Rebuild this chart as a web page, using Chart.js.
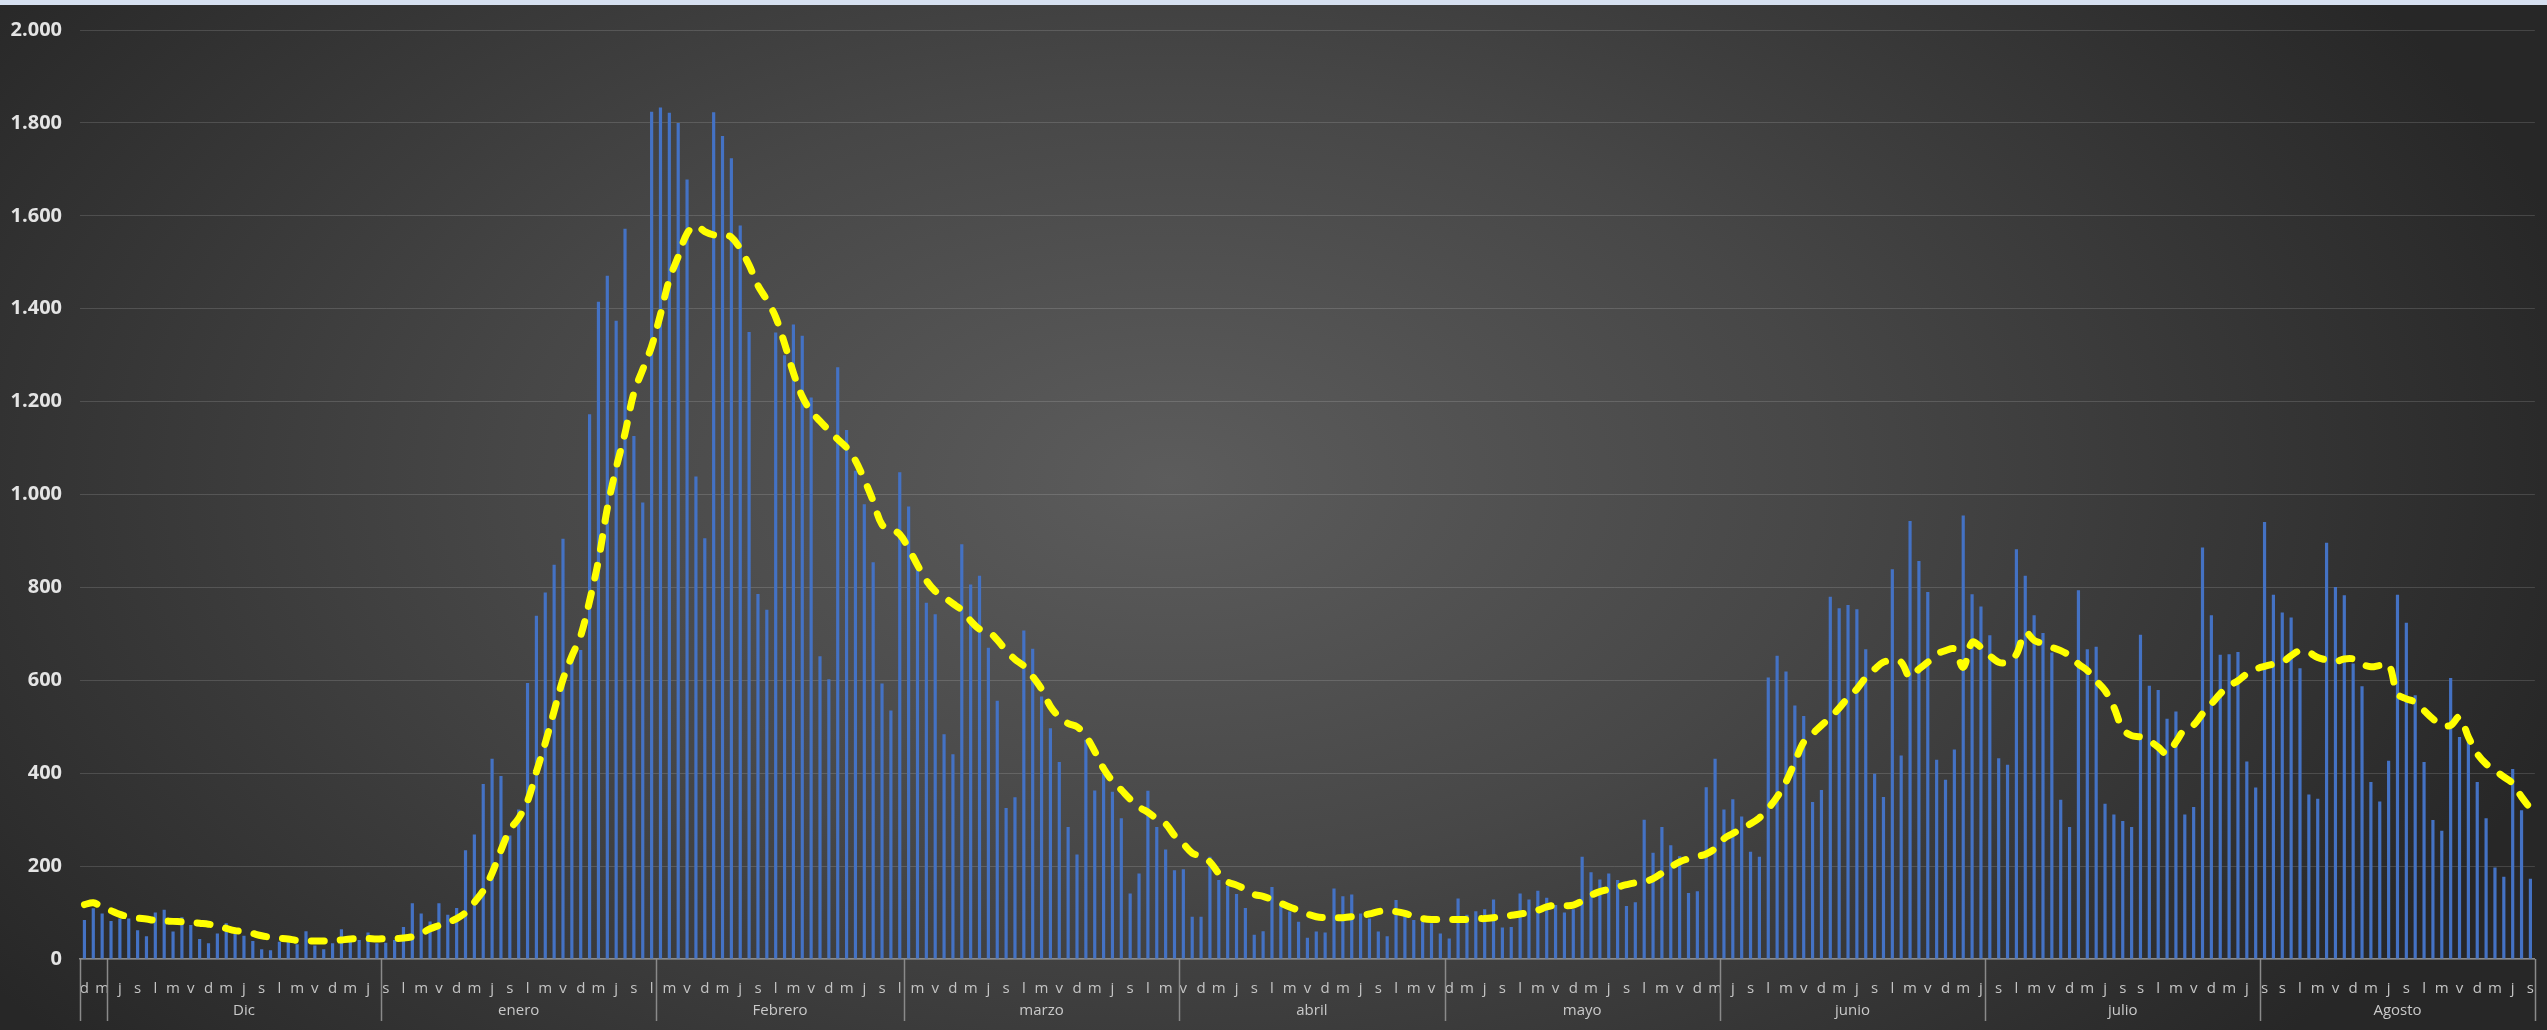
<!DOCTYPE html>
<html>
<head>
<meta charset="utf-8">
<script src="https://cdn.jsdelivr.net/npm/chart.js@4/dist/chart.umd.min.js"></script>
<style>
  html, body { margin: 0; padding: 0; background: #262626; overflow: hidden; }
  canvas { display: block; }
</style>
</head>
<body>
<canvas id="c" width="2547" height="1030"></canvas>
<script>
// ---- data ----
const monthNames = ["", "Dic", "enero", "Febrero", "marzo", "abril", "mayo", "junio", "julio", "Agosto"];
const monthDays  = [3, 31, 31, 28, 31, 30, 31, 30, 31, 31];

// weekday letters shown under every second bar
const dayLetters = [
  "d","m",
  "j","s","l","m","v","d","m","j","s","l","m","v","d","m","j",
  "s","l","m","v","d","m","j","s","l","m","v","d","m","j","s","l",
  "m","v","d","m","j","s","l","m","v","d","m","j","s","l",
  "m","v","d","m","j","s","l","m","v","d","m","j","s","l","m",
  "v","d","m","j","s","l","m","v","d","m","j","s","l","m","v",
  "d","m","j","s","l","m","v","d","m","j","s","l","m","v","d","m",
  "j","s","l","m","v","d","m","j","s","l","m","v","d","m","j",
  "s","l","m","v","d","m","j","s","s","l","m","v","d","m","j",
  "s","s","l","m","v","d","m","j","s","l","m","v","d","m","j","s"
];

// daily values (bars)
const dailyValues = [
  84,109,98,82,87,87,62,49,100,106,59,90,73,43,34,55,77,55,50,39,
  21,19,37,49,32,60,29,21,34,64,37,41,57,34,35,41,69,120,98,81,
  120,95,110,234,268,377,431,394,266,322,594,739,789,849,905,652,665,1173,1415,1471,
  1374,1572,1126,983,1824,1833,1822,1800,1678,1039,906,1823,1772,1724,1579,1350,786,752,1349,1300,
  1366,1342,1209,652,602,1274,1139,1051,979,854,593,535,1048,974,838,767,742,484,441,893,
  806,825,670,556,325,348,707,668,565,497,424,284,225,472,363,399,360,303,141,184,
  362,284,236,191,193,91,91,220,170,157,140,110,52,60,155,120,102,80,46,59,
  57,152,135,139,98,87,59,49,127,95,84,80,77,55,44,130,95,103,107,128,
  68,69,141,128,147,132,116,100,107,220,187,171,184,170,114,122,300,229,284,245,
  221,142,146,370,431,322,344,307,231,220,606,653,619,546,523,338,364,780,755,762,
  753,667,399,349,839,438,943,857,790,429,386,451,955,785,759,697,432,418,882,825,
  740,702,660,343,284,794,667,672,334,311,297,284,698,588,579,517,533,311,327,886,
  740,655,656,661,425,369,941,784,746,735,626,354,345,896,801,783,636,587,381,339,
  427,784,724,568,424,299,276,605,478,472,381,303,197,177,409,320,173
];

// smoothed average (yellow dashed line)
const averageValues = [
  117,121,112,104,96,91,88,86,83,82,81,80,79,77,75,72,66,61,60,55,
  50,47,45,43,40,39,39,39,39,41,43,44,44,43,44,44,45,48,55,65,
  72,79,87,100,122,147,185,234,278,303,340,403,465,534,602,652,696,771,858,970,
  1057,1132,1219,1269,1319,1388,1463,1512,1562,1579,1566,1559,1559,1554,1529,1494,1450,1419,1382,1325,
  1262,1211,1179,1158,1138,1119,1101,1073,1032,986,935,926,914,884,848,815,792,779,765,751,
  728,710,705,687,664,645,631,608,581,544,521,507,500,480,447,410,383,364,344,327,
  316,302,291,266,248,228,221,209,184,166,159,150,139,135,128,120,112,105,97,91,
  89,89,89,91,94,97,102,104,102,98,92,87,85,85,85,85,85,87,87,89,
  92,94,97,100,105,112,116,115,116,125,137,145,150,155,160,164,166,173,185,198,
  209,216,221,226,238,259,270,281,291,304,324,349,381,424,467,485,503,520,540,563,
  581,606,624,639,642,639,606,624,639,656,664,667,628,682,671,653,639,639,656,703,
  686,679,671,664,653,635,621,599,578,542,495,481,478,470,456,442,467,495,504,528,
  549,571,588,599,614,624,630,635,639,653,664,660,649,644,640,646,646,635,629,632,
  635,571,560,553,535,517,503,503,521,478,442,420,406,392,378,349,324
];

const yTicks = { min: 0, max: 2000, step: 200 };

// ---- derived category labels ----
const categoryLabels = dailyValues.map((_, i) => (i % 2 === 0 ? (dayLetters[i / 2] || "") : ""));

function fmtThousands(v) {
  return String(v).replace(/\B(?=(\d{3})+(?!\d))/g, ".");
}

const backgroundPlugin = {
  id: "bg",
  beforeDraw(chart) {
    const { ctx, width, height } = chart;
    ctx.save();
    ctx.fillStyle = "#262626";
    ctx.fillRect(0, 0, width, height);
    const cx = 1170, cy = 480, sy = 0.6;
    ctx.translate(cx, cy);
    ctx.scale(1, sy);
    const g = ctx.createRadialGradient(0, 0, 0, 0, 0, 1450);
    g.addColorStop(0, "#5c5c5c");
    g.addColorStop(0.45, "#474747");
    g.addColorStop(1, "#272727");
    ctx.fillStyle = g;
    ctx.fillRect(-cx - 5, -cy / sy - 5, width + 10, height / sy + 10);
    ctx.restore();
    // thin light strip at the very top (window edge in the screenshot)
    ctx.save();
    ctx.fillStyle = "#d6e0f0";
    ctx.fillRect(0, 0, width, 5);
    ctx.restore();
  }
};

const monthPlugin = {
  id: "months",
  afterDraw(chart) {
    const { ctx } = chart;
    const xs = chart.scales.x;
    const n = dailyValues.length;
    const step = (xs.right - xs.left) / n;
    const top = chart.chartArea.bottom;
    ctx.save();
    ctx.strokeStyle = "#8a8a8a";
    ctx.lineWidth = 1.5;
    ctx.fillStyle = "#c9c9c9";
    ctx.font = "15px 'Open Sans'";
    ctx.textAlign = "center";
    ctx.textBaseline = "middle";
    let start = 0;
    const drawSep = (k) => {
      const x = Math.round(xs.left + k * step) + 0.5;
      ctx.beginPath();
      ctx.moveTo(x, top);
      ctx.lineTo(x, top + 62);
      ctx.stroke();
    };
    drawSep(0);
    monthDays.forEach((d, i) => {
      const end = start + d;
      drawSep(end);
      if (monthNames[i]) {
        const mid = xs.left + ((start + end) / 2) * step;
        ctx.fillText(monthNames[i], mid, top + 52);
      }
      start = end;
    });
    ctx.restore();
  }
};

new Chart(document.getElementById("c"), {
  data: {
    labels: categoryLabels,
    datasets: [
      {
        type: "line",
        label: "media",
        data: averageValues,
        borderColor: "#FFFF00",
        borderWidth: 7,
        borderDash: [13, 16],
        borderCapStyle: "round",
        borderJoinStyle: "round",
        tension: 0.35,
        pointRadius: 0,
        fill: false,
        order: 0
      },
      {
        type: "bar",
        label: "diarios",
        data: dailyValues,
        backgroundColor: "#4472C4",
        barPercentage: 0.36,
        categoryPercentage: 1.0,
        order: 1
      }
    ]
  },
  options: {
    responsive: false,
    devicePixelRatio: 1,
    animation: false,
    layout: { padding: { top: 28, right: 7, left: 0, bottom: 0 } },
    plugins: { legend: { display: false }, tooltip: { enabled: false } },
    scales: {
      x: {
        type: "category",
        offset: true,
        grid: { display: false },
        border: { display: true, color: "#8a8a8a", width: 1.5 },
        ticks: {
          autoSkip: false,
          maxRotation: 0,
          minRotation: 0,
          padding: 13,
          color: "#c4c4c4",
          font: { family: "Open Sans", size: 15 }
        },
        afterFit(s) { s.height = 71; }
      },
      y: {
        min: yTicks.min,
        max: yTicks.max,
        grid: { color: "rgba(255,255,255,0.14)", lineWidth: 1, drawTicks: false },
        border: { display: false },
        ticks: {
          stepSize: yTicks.step,
          padding: 18,
          color: "#e4e4e4",
          font: { family: "Open Sans", size: 20, weight: "bold" },
          callback: (v) => fmtThousands(v)
        },
        afterFit(s) { s.width = 80; }
      }
    }
  },
  plugins: [backgroundPlugin, monthPlugin]
});
</script>
</body>
</html>
